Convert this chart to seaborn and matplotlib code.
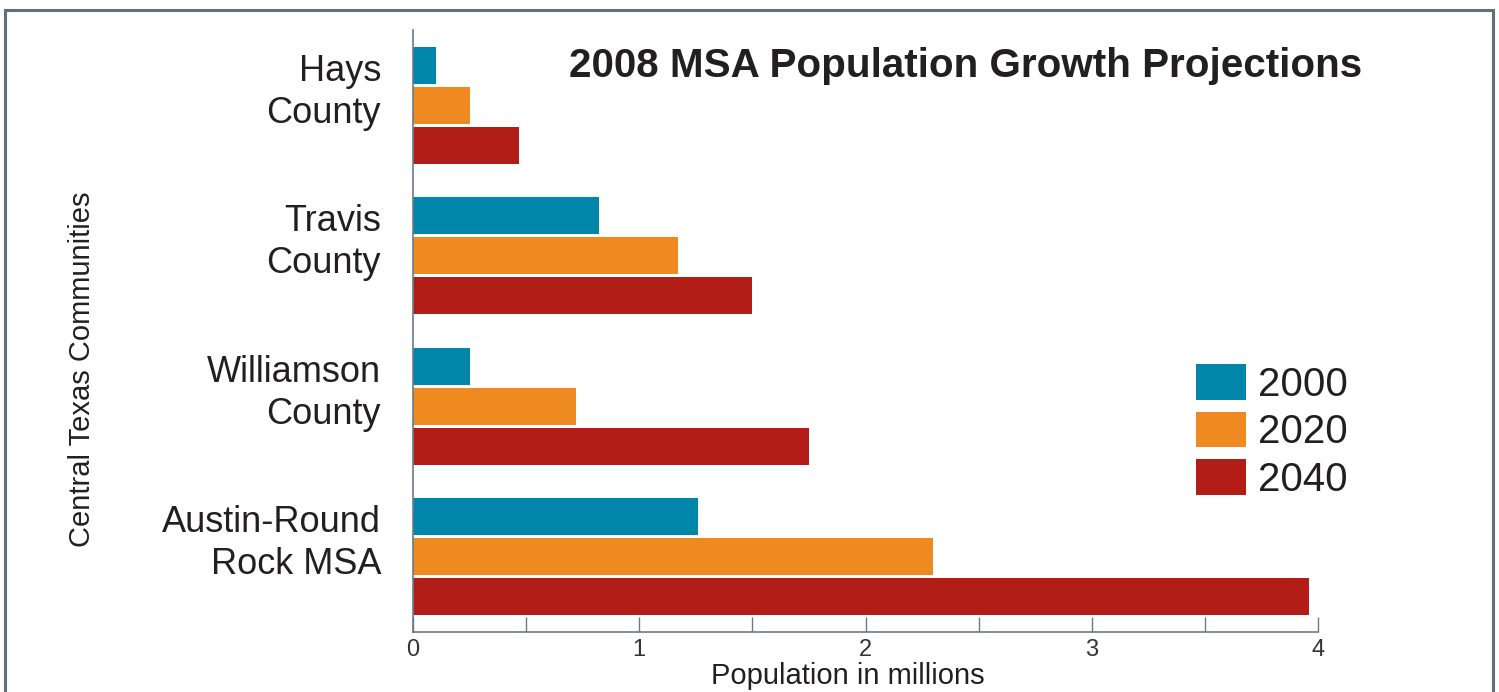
import matplotlib
matplotlib.use("Agg")
import matplotlib.pyplot as plt
from matplotlib.patches import Rectangle, Patch
import seaborn as sns
import pandas as pd

# ---- data ----
communities = ["Hays\nCounty", "Travis\nCounty", "Williamson\nCounty", "Austin-Round\nRock MSA"]
years = ["2000", "2020", "2040"]
pop_2000 = [0.10, 0.82, 0.25, 1.26]
pop_2020 = [0.25, 1.17, 0.72, 2.30]
pop_2040 = [0.47, 1.50, 1.75, 3.96]
x_ticks_major = [0, 1, 2, 3, 4]
x_ticks_minor = [0.5, 1.5, 2.5, 3.5]
title = "2008 MSA Population Growth Projections"
xlabel = "Population in millions"
ylabel = "Central Texas Communities"

colors = ["#0085AB", "#EE8A1F", "#B21D18"]
text_color = "#231F20"
spine_color = "#6A7C87"

rows = []
for yr, vals in zip(years, [pop_2000, pop_2020, pop_2040]):
    for c, v in zip(communities, vals):
        rows.append({"community": c, "year": yr, "pop": v})
df = pd.DataFrame(rows)

sns.set_style("white")
FONT = ["Liberation Sans", "DejaVu Sans"]
plt.rcParams["font.family"] = FONT

W, H = 1499, 692
fig = plt.figure(figsize=(W / 100, H / 100), dpi=100)
ax = fig.add_axes([413 / W, 1 - 632 / H, 905 / W, 602 / H])

sns.barplot(data=df, y="community", x="pop", hue="year", order=communities,
            hue_order=years, palette=colors, orient="h", width=0.8, gap=0.075,
            saturation=1, ax=ax, legend=False, linewidth=0)

ax.set_xlim(0, 4)
ax.set_ylim(3.5, -0.5)
for s in ["top", "right"]:
    ax.spines[s].set_visible(False)
for s in ["left", "bottom"]:
    ax.spines[s].set_color(spine_color)
    ax.spines[s].set_linewidth(1.2)

ax.set_xticks(x_ticks_major)
ax.set_xticks(x_ticks_minor, minor=True)
ax.set_xticklabels([str(t) for t in x_ticks_major])
ax.tick_params(axis="x", which="both", bottom=True, direction="in", length=11,
               width=1, color=spine_color, pad=5, labelsize=17,
               labelcolor="#333333")
# category labels sit slightly above the centre of each bar group
ax.set_yticks([i - 0.135 for i in range(len(communities))], labels=communities)
ax.tick_params(axis="y", left=False, length=0, pad=23, labelsize=26,
               labelcolor=text_color)
for lbl in ax.get_yticklabels():
    lbl.set_linespacing(1.25)

ax.set_xlabel(xlabel, fontsize=21, color=text_color)
ax.xaxis.set_label_coords(0.4807, -0.050)
ax.set_ylabel(ylabel, fontsize=21, color=text_color)
ax.yaxis.set_label_coords(-0.350, 0.437)

fig.text(1362 / W, 1 - 66 / H, title, ha="right", va="center",
         fontsize=29.1, fontweight="bold", color=text_color)

handles = [Patch(facecolor=c, edgecolor="none", label=y) for c, y in zip(colors, years)]
ax.legend(handles=handles, loc="upper left", bbox_to_anchor=(1196 / W, 1 - 364 / H),
          bbox_transform=fig.transFigure, frameon=False, fontsize=29,
          handlelength=1.25, handleheight=0.98, handletextpad=0.3,
          labelspacing=0.2, borderpad=0, borderaxespad=0,
          labelcolor=text_color)

fig.patches.append(Rectangle((4.5 / W, -0.05), (1493 - 4.5) / W, 1.05 - 10.5 / H,
                             transform=fig.transFigure, fill=False,
                             edgecolor="#5E717D", linewidth=2.2))

fig.savefig("out.png", dpi=100)
